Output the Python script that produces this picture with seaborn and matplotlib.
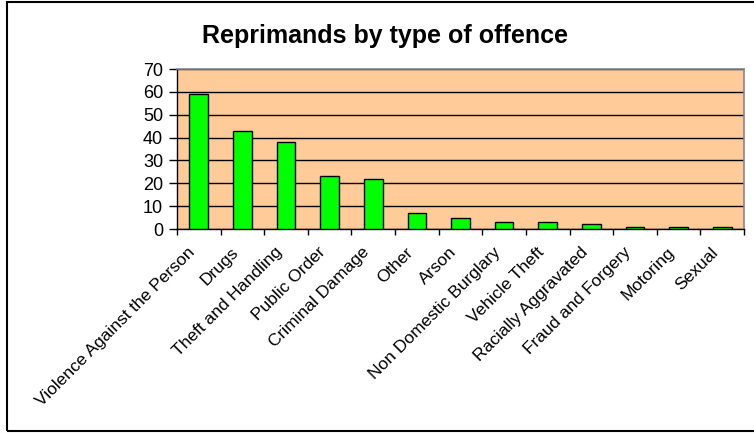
import numpy as np
import pandas as pd
import seaborn as sns
import matplotlib.pyplot as plt
from matplotlib.patches import Rectangle

# Reprimand counts by offence type
offences = ["Violence Against the Person", "Drugs", "Theft and Handling",
            "Public Order", "Criminal Damage", "Other", "Arson",
            "Non Domestic Burglary", "Vehicle Theft", "Racially Aggravated",
            "Fraud and Forgery", "Motoring", "Sexual"]
reprimands = [59, 43, 38, 23, 22, 7, 5, 3, 3, 2, 1, 1, 1]
y_ticks = [0, 10, 20, 30, 40, 50, 60, 70]

df = pd.DataFrame({"offence": offences, "count": reprimands})

sns.set_style("white")
plt.rcParams["font.family"] = ["Liberation Sans", "DejaVu Sans"]
plt.rcParams["text.color"] = "black"
plt.rcParams["xtick.color"] = "black"
plt.rcParams["ytick.color"] = "black"

fig = plt.figure(figsize=(7.54, 4.33), dpi=100)
ax = fig.add_axes([177 / 754, 1 - 229 / 433, (744 - 177) / 754, (229 - 69) / 433])

sns.barplot(data=df, x="offence", y="count", color="#00FF00", width=0.43,
            edgecolor="black", linewidth=1, saturation=1, ax=ax, zorder=3)

ax.set_facecolor("#FFCC99")
ax.set_ylim(0, 70)
ax.set_xlim(-0.5, len(offences) - 0.5)
ax.set_yticks(y_ticks)
ax.yaxis.grid(True, color="black", linewidth=1)
ax.set_axisbelow(True)

# ticks at category boundaries, labels (invisible minor ticks) near centres
ax.set_xticks(np.arange(-0.5, len(offences), 1.0))
ax.set_xticklabels([])
ax.set_xticks(np.arange(len(offences)) - 0.14, minor=True)
ax.set_xticklabels(offences, minor=True, rotation=45, ha="right", va="center",
                   rotation_mode="anchor", fontsize=12.5)
ax.tick_params(axis="x", which="minor", length=0, pad=15)
ax.tick_params(axis="x", which="major", length=4, width=1, color="black",
               direction="out", bottom=True)
ax.tick_params(axis="y", length=6, width=1, color="black", direction="out",
               left=True, labelsize=13, pad=4)

ax.set_xlabel("")
ax.set_ylabel("")
for side in ["left", "bottom"]:
    ax.spines[side].set_color("black")
    ax.spines[side].set_linewidth(1)
for side in ["top", "right"]:
    ax.spines[side].set_visible(True)
    ax.spines[side].set_color("#888888")
    ax.spines[side].set_linewidth(1.2)

fig.text(385 / 754, 1 - 43 / 433, "Reprimands by type of offence",
         ha="center", va="baseline", fontsize=18, fontweight="bold")

# chart frame
fig.patches.append(Rectangle((7 / 754, 2 / 433), 1.0, 429 / 433,
                             transform=fig.transFigure, fill=False,
                             edgecolor="black", linewidth=1.5))

fig.savefig("out.png", dpi=100)
